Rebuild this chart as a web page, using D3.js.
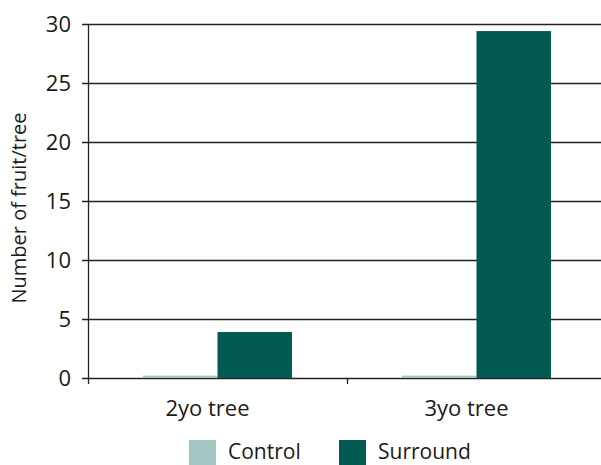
<!DOCTYPE html>
<html>
<head>
<meta charset="utf-8">
<script src="https://cdn.jsdelivr.net/npm/d3@7"></script>
<style>
  body { margin: 0; background: #fff; }
  text { font-family: "Open Sans", "Noto Sans", sans-serif; fill: #1a1a1a; }
</style>
</head>
<body>
<script>
// chart values
var categories = ['2yo tree', '3yo tree'];
var seriesNames = ['Control', 'Surround'];
var controlValues = [0.2, 0.2];
var surroundValues = [3.9, 29.4];
var yTicks = [0, 5, 10, 15, 20, 25, 30];

var colors = { Control: '#a3c6c2', Surround: '#025a52' };

var width = 601, height = 465;
var margin = { left: 88, top: 24, right: -5, bottom: 87 };

var svg = d3.select('body').append('svg')
  .attr('width', width)
  .attr('height', height);

var x0 = d3.scaleBand()
  .domain(categories)
  .range([margin.left, width - margin.right]);

var x1 = d3.scaleBand()
  .domain(seriesNames)
  .range([0, x0.bandwidth() * 0.575]);

var y = d3.scaleLinear()
  .domain([0, 30])
  .range([height - margin.bottom, margin.top]);

// gridlines
svg.selectAll('.grid')
  .data(yTicks)
  .enter()
  .append('line')
  .attr('class', 'grid')
  .attr('x1', margin.left - 6)
  .attr('x2', width)
  .attr('y1', function(d) { return Math.round(y(d)) + 0.5; })
  .attr('y2', function(d) { return Math.round(y(d)) + 0.5; })
  .style('stroke', '#222')
  .style('stroke-width', 1.3);

// y tick labels
svg.selectAll('.ylab')
  .data(yTicks)
  .enter()
  .append('text')
  .attr('class', 'ylab')
  .attr('x', 71)
  .attr('y', function(d) { return y(d) + 8; })
  .attr('text-anchor', 'end')
  .style('font-size', '22px')
  .text(function(d) { return d; });

// bars
var rows = categories.map(function(c, i) {
  return { cat: c, values: [
    { name: 'Control', value: controlValues[i] },
    { name: 'Surround', value: surroundValues[i] }
  ] };
});

var groups = svg.selectAll('.group')
  .data(rows)
  .enter()
  .append('g')
  .attr('class', 'group')
  .attr('transform', function(d) {
    return 'translate(' + (x0(d.cat) + x0.bandwidth() * (1 - 0.575) / 2) + ',0)';
  });

groups.selectAll('rect')
  .data(function(d) { return d.values; })
  .enter()
  .append('rect')
  .attr('x', function(d) { return x1(d.name); })
  .attr('width', x1.bandwidth())
  .attr('y', function(d) { return y(d.value); })
  .attr('height', function(d) { return y(0) - y(d.value); })
  .style('fill', function(d) { return colors[d.name]; });

// y axis line and category ticks
svg.append('line')
  .attr('x1', margin.left + 0.5).attr('x2', margin.left + 0.5)
  .attr('y1', y(30)).attr('y2', y(0) + 6)
  .style('stroke', '#222').style('stroke-width', 1.3);

svg.selectAll('.xtick')
  .data(categories)
  .enter()
  .append('line')
  .attr('class', 'xtick')
  .attr('x1', function(d) { return x0(d) + x0.bandwidth() + 0.5; })
  .attr('x2', function(d) { return x0(d) + x0.bandwidth() + 0.5; })
  .attr('y1', y(0))
  .attr('y2', y(0) + 6)
  .style('stroke', '#222').style('stroke-width', 1.3);

// category labels
svg.selectAll('.xlab')
  .data(categories)
  .enter()
  .append('text')
  .attr('class', 'xlab')
  .attr('x', function(d) { return x0(d) + x0.bandwidth() / 2 - 10; })
  .attr('y', 416)
  .attr('text-anchor', 'middle')
  .style('font-size', '22px')
  .text(function(d) { return d; });

// y axis title
svg.append('text')
  .attr('transform', 'translate(26,208) rotate(-90)')
  .attr('text-anchor', 'middle')
  .style('font-size', '20px')
  .text('Number of fruit/tree');

// legend
var legendX = [189, 339];
var legend = svg.selectAll('.legend')
  .data(seriesNames)
  .enter()
  .append('g')
  .attr('class', 'legend')
  .attr('transform', function(d, i) { return 'translate(' + legendX[i] + ',440)'; });

legend.append('rect')
  .attr('width', 27)
  .attr('height', 25)
  .style('fill', function(d) { return colors[d]; });

legend.append('text')
  .attr('x', 39)
  .attr('y', 19)
  .style('font-size', '21px')
  .text(function(d) { return d; });
</script>
</body>
</html>
